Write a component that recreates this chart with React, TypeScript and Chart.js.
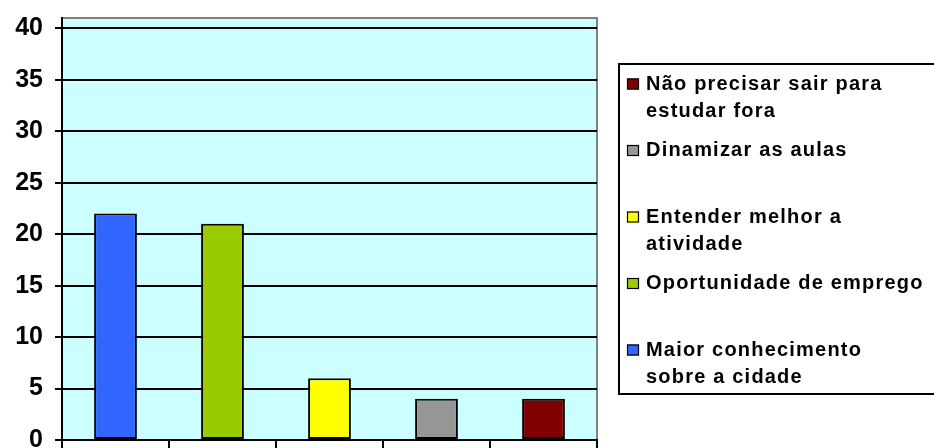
import React, { useEffect, useRef } from "react";
import { Chart, registerables } from "chart.js";

Chart.register(...registerables);

const categories: string[][] = [
  ["Maior conhecimento", "sobre a cidade"],
  ["Oportunidade de emprego"],
  ["Entender melhor a", "atividade"],
  ["Dinamizar as aulas"],
  ["Não precisar sair para", "estudar fora"],
];
const values: number[] = [22, 21, 6, 4, 4];
const colors: string[] = ["#3366FF", "#99CC00", "#FFFF00", "#969696", "#800000"];
const yTicks: number[] = [0, 5, 10, 15, 20, 25, 30, 35, 40];

const FONT = "'Liberation Sans', Arial, sans-serif";

const bgPlugin = {
  id: "plotBg",
  beforeDraw(chart: any) {
    const { ctx, chartArea } = chart;
    ctx.save();
    ctx.fillStyle = "#CCFFFF";
    ctx.fillRect(chartArea.left, chartArea.top, chartArea.right - chartArea.left, chartArea.bottom - chartArea.top);
    ctx.strokeStyle = "#808080";
    ctx.lineWidth = 2;
    ctx.beginPath();
    ctx.moveTo(chartArea.left, chartArea.top);
    ctx.lineTo(chartArea.right, chartArea.top);
    ctx.lineTo(chartArea.right, chartArea.bottom);
    ctx.stroke();
    ctx.restore();
  },
};

const legendPlugin = {
  id: "customLegend",
  afterDraw(chart: any) {
    const { ctx } = chart;
    const labels = chart.data.labels as string[][];
    const bg = chart.data.datasets[0].backgroundColor as string[];
    const boxX = 619;
    const boxTop = 64;
    const boxBottom = 394;
    ctx.save();
    ctx.strokeStyle = "#000";
    ctx.lineWidth = 2;
    ctx.strokeRect(boxX, boxTop, 400, boxBottom - boxTop);
    ctx.font = `bold 20px ${FONT}`;
    (ctx as any).letterSpacing = "1.2px";
    ctx.textBaseline = "middle";
    ctx.fillStyle = "#000";
    const order = labels.map((_, i) => i).reverse();
    const slot = 66.5;
    const lineH = 27;
    order.forEach((idx, k) => {
      const y0 = 84 + k * slot;
      ctx.fillStyle = bg[idx];
      ctx.fillRect(627, y0 - 5.5, 12, 11);
      ctx.strokeStyle = "#000";
      ctx.lineWidth = 1.2;
      ctx.strokeRect(627.5, y0 - 5, 11, 10);
      ctx.fillStyle = "#000";
      labels[idx].forEach((line, j) => {
        ctx.fillText(line, 646, y0 + j * lineH);
      });
    });
    ctx.restore();
  },
};

export default function App() {
  const ref = useRef<HTMLCanvasElement | null>(null);
  useEffect(() => {
    if (!ref.current) return;
    const chart = new Chart(ref.current, {
      type: "bar",
      data: {
        labels: categories,
        datasets: [
          {
            data: values,
            backgroundColor: colors,
            borderColor: "#000",
            borderWidth: 2,
            borderSkipped: false,
            barPercentage: 0.4,
            categoryPercentage: 1,
          },
        ],
      },
      options: {
        animation: false,
        responsive: false,
        layout: { padding: { left: 0, right: 337, top: 18, bottom: 0 } },
        plugins: { legend: { display: false }, tooltip: { enabled: false } },
        scales: {
          x: {
            offset: true,
            grid: {
              offset: true,
              drawOnChartArea: false,
              drawTicks: true,
              tickLength: 8,
              color: "#000",
              lineWidth: 2,
            },
            border: { color: "#000", width: 2 },
            ticks: { display: false },
            afterFit(scale: any) {
              scale.height = 8;
              scale.paddingLeft = 0;
              scale.paddingRight = 0;
            },
          },
          y: {
            min: 0,
            max: 41,
            afterBuildTicks(scale: any) {
              scale.ticks = yTicks.map((v) => ({ value: v }));
            },
            grid: { color: "#000", lineWidth: 2, tickLength: 7 },
            border: { color: "#000", width: 2 },
            ticks: {
              color: "#000",
              padding: 12,
              font: { family: FONT, size: 25, weight: "bold" },
            },
            afterFit(scale: any) {
              scale.width = 62;
              scale.paddingTop = 0;
              scale.paddingBottom = 0;
            },
          },
        },
      },
      plugins: [bgPlugin, legendPlugin],
    });
    return () => chart.destroy();
  }, []);
  return (
    <div style={{ position: "fixed", left: 0, top: 0, width: 934, height: 448, background: "#fff" }}>
      <canvas ref={ref} width={934} height={448} style={{ width: 934, height: 448, display: "block" }} />
    </div>
  );
}
